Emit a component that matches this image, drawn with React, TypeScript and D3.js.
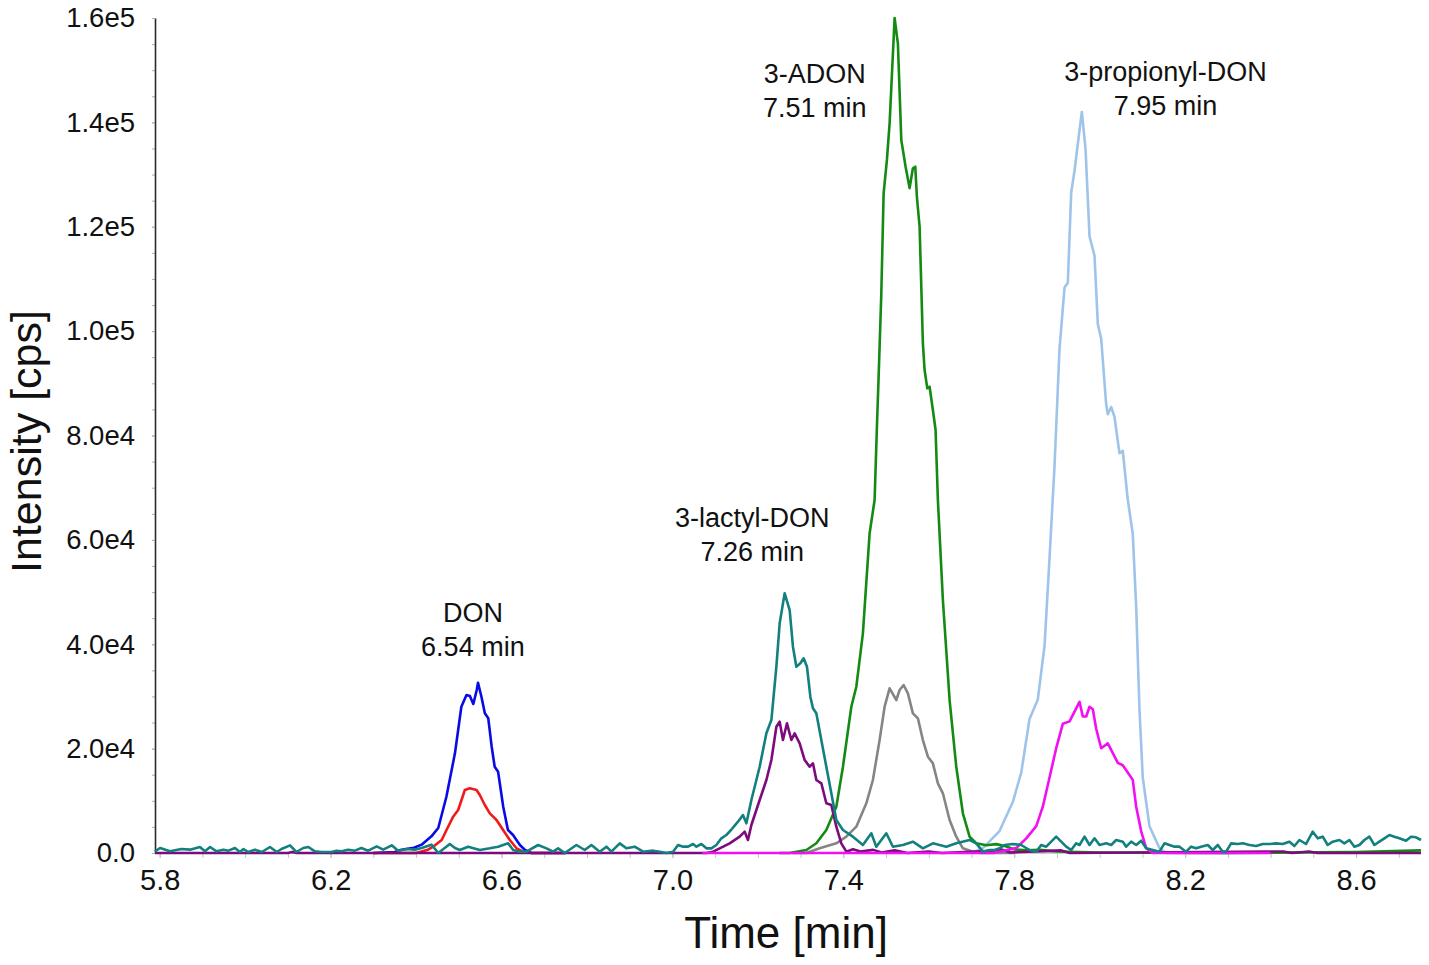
import { useEffect, useRef } from "react";
import * as d3 from "d3";

type Pt = [number, number];

// time [min], intensity [cps]
const donQuant: Pt[] = [
  [6.3, 0], [6.35, 200], [6.366, 639], [6.395, 1000], [6.413, 1597], [6.436, 3194],
  [6.452, 4790], [6.471, 10787], [6.491, 19102], [6.506, 28031], [6.518, 30273],
  [6.526, 30081], [6.534, 28548], [6.542, 31231], [6.545, 32630], [6.553, 29947],
  [6.561, 26766], [6.569, 25808], [6.577, 20367], [6.584, 16535], [6.592, 15577],
  [6.604, 8871], [6.615, 4407], [6.627, 3449], [6.643, 1533], [6.655, 575],
  [6.67, 0], [6.75, 0],
];

const donQual: Pt[] = [
  [6.3, 0], [6.4, 0], [6.428, 639], [6.44, 1207], [6.46, 2500], [6.4713, 4407],
  [6.4868, 6955], [6.4985, 8239], [6.5064, 10155], [6.5142, 12071], [6.5259, 12396],
  [6.5415, 12071], [6.5492, 11113], [6.5609, 9197], [6.5726, 7607], [6.5883, 6323],
  [6.6037, 4407], [6.6194, 2491], [6.6351, 900], [6.6505, 250], [6.67, 0], [6.75, 0],
];

const lactylQuant: Pt[] = [
  [5.789, 320], [5.801, 958], [5.824, 320], [5.851, 766], [5.871, 639], [5.894, 1150],
  [5.906, 320], [5.918, 1150], [5.933, 320], [5.949, 639], [5.961, 447], [5.976, 958],
  [5.988, 192], [5.996, 766], [6.007, 192], [6.023, 639], [6.039, 192], [6.058, 1150],
  [6.074, 192], [6.085, 766], [6.105, 1469], [6.12, 192], [6.136, 958], [6.148, 1150],
  [6.163, 320], [6.179, 192], [6.202, 192], [6.214, 447], [6.226, 320], [6.241, 639],
  [6.257, 447], [6.272, 958], [6.288, 447], [6.308, 1277], [6.323, 639], [6.343, 1469],
  [6.358, 447], [6.378, 766], [6.397, 639], [6.413, 958], [6.436, 1597], [6.452, 0],
  [6.467, 958], [6.479, 1724], [6.491, 958], [6.5024, 575], [6.5219, 1213],
  [6.5492, 575], [6.5726, 894], [6.5921, 1213], [6.6155, 1852], [6.6272, 575],
  [6.6428, 255], [6.6584, 255], [6.6857, 1533], [6.7052, 894], [6.7208, 255],
  [6.7325, 894], [6.748, 0], [6.7754, 1533], [6.7948, 575], [6.8104, 1533],
  [6.83, 255], [6.8455, 1213], [6.8572, 255], [6.8767, 1852], [6.8923, 894],
  [6.9118, 1213], [6.9313, 255], [6.9547, 447], [6.9703, 255], [6.9859, 0],
  [7.0015, 255], [7.0132, 1533], [7.0249, 1213], [7.0366, 1213], [7.0483, 1724],
  [7.0561, 1213], [7.0678, 1724], [7.0795, 894], [7.0912, 894], [7.1028, 1533],
  [7.1145, 2810], [7.1262, 3449], [7.138, 4500], [7.1535, 5997], [7.1651, 7281],
  [7.1731, 5690], [7.1848, 10155], [7.2042, 16535], [7.2199, 22935], [7.2316, 25483],
  [7.2433, 35695], [7.251, 44011], [7.2627, 49759], [7.2744, 46559], [7.2821, 39527],
  [7.29, 35695], [7.2994, 36346], [7.3071, 37304], [7.3149, 35695], [7.3228, 29947],
  [7.3289, 27724], [7.3368, 26766], [7.3485, 21651], [7.3602, 16535], [7.3719, 11439],
  [7.3836, 6323], [7.3991, 4407], [7.4225, 3123], [7.4458, 1533], [7.4655, 3775],
  [7.4772, 1207], [7.5006, 3775], [7.5161, 1207], [7.5394, 1533], [7.5628, 2165],
  [7.5862, 900], [7.6096, 1859], [7.6409, 1207], [7.6643, 1859], [7.6955, 2491],
  [7.7111, 1852], [7.7267, 255], [7.7423, 575], [7.754, 575], [7.7657, 894],
  [7.7774, 1533], [7.7969, 1724], [7.8163, 1533], [7.8358, 575], [7.8514, 255],
  [7.8631, 1533], [7.8748, 1213], [7.8865, 2171], [7.8982, 3129], [7.9099, 2171],
  [7.9216, 1213], [7.9333, 575], [7.945, 1852], [7.9528, 1533], [7.9645, 3129],
  [7.9762, 1533], [7.9879, 2810], [7.9996, 1533], [8.0152, 1852], [8.0269, 1533],
  [8.0386, 2491], [8.0542, 2171], [8.062, 1213], [8.0737, 2171], [8.0854, 1533],
  [8.0971, 2363], [8.1088, 894], [8.1243, 575], [8.1399, 255], [8.1516, 1852],
  [8.1633, 1533], [8.175, 1213], [8.1867, 1213], [8.2023, 255], [8.214, 1213],
  [8.2257, 894], [8.2374, 1213], [8.253, 1533], [8.2647, 575], [8.2764, 1533],
  [8.2881, 255], [8.2959, 255], [8.3076, 1852], [8.3232, 1724], [8.3349, 1852],
  [8.3505, 1533], [8.366, 1341], [8.3816, 1724], [8.3972, 1724], [8.4128, 1852],
  [8.4284, 1724], [8.444, 2171], [8.4557, 1341], [8.4674, 2491], [8.483, 1724],
  [8.4986, 4087], [8.5103, 2810], [8.522, 3129], [8.5337, 1533], [8.5454, 2171],
  [8.561, 2491], [8.5727, 1852], [8.5844, 2491], [8.5961, 1213], [8.6078, 1533],
  [8.6195, 2491], [8.6312, 3129], [8.6429, 1533], [8.6546, 2171], [8.6663, 2810],
  [8.678, 3449], [8.6896, 3129], [8.7013, 2810], [8.7169, 2363], [8.7286, 3129],
  [8.7403, 3002], [8.752, 2491],
];

const lactylQual: Pt[] = [
  [5.789, 0], [6.1, 0], [6.11, 200], [6.12, 0], [7.05, 0], [7.0795, 0], [7.095, 255],
  [7.1106, 900], [7.134, 1859], [7.1574, 3123], [7.1691, 4081], [7.1768, 2491],
  [7.1848, 5365], [7.2042, 10155], [7.2199, 13987], [7.2316, 17819], [7.2433, 24199],
  [7.251, 25157], [7.2587, 21651], [7.2681, 24851], [7.2784, 21651], [7.2861, 22935],
  [7.2978, 21019], [7.3095, 17819], [7.3212, 16535], [7.3289, 17186], [7.3368, 13987],
  [7.3485, 13355], [7.3602, 9523], [7.3719, 9197], [7.3836, 5040], [7.3953, 1859],
  [7.407, 250], [7.4225, 700], [7.44, 300], [7.47, 600], [7.49, 100], [7.52, 500],
  [7.55, 0], [7.6, 300], [7.63, 0], [7.75, 400], [7.77, 700], [7.79, 100], [7.91, 500],
  [7.93, 0], [8.43, 300], [8.45, 0], [8.49, 300], [8.51, 0], [8.752, 0],
];

const adonQuant: Pt[] = [
  [7.25, 0], [7.2744, 0], [7.3135, 575], [7.3368, 1860], [7.3602, 4407], [7.3836, 8871],
  [7.3991, 16535], [7.4187, 28031], [7.4304, 31863], [7.4458, 42095], [7.4615, 61255],
  [7.4732, 67635], [7.4786, 81680], [7.4826, 91260], [7.4889, 107200], [7.4943, 126400],
  [7.502, 132800], [7.5083, 139800], [7.52, 160000], [7.5277, 155100], [7.5357, 136600],
  [7.5457, 131500], [7.5551, 127400], [7.5628, 131200], [7.5684, 131500],
  [7.5722, 125700], [7.5785, 120000], [7.5862, 97660], [7.5902, 92540], [7.5965, 89040],
  [7.6019, 89350], [7.6096, 84880], [7.6159, 81050], [7.6213, 67635], [7.633, 48475],
  [7.6487, 29315], [7.6643, 16535], [7.6798, 7607], [7.6955, 3123], [7.7111, 1859],
  [7.7345, 1500], [7.7579, 1700], [7.78, 1300], [7.8, 700], [7.83, 500], [7.86, 600],
  [7.9, 300], [8.0, 100], [8.3, 0], [8.6, 200], [8.752, 500],
];

const adonQual: Pt[] = [
  [7.28, 0], [7.3135, 0], [7.3446, 900], [7.3836, 1859], [7.407, 3123], [7.4304, 5040],
  [7.4538, 9523], [7.4692, 13987], [7.4849, 21651], [7.4966, 28031], [7.5083, 31556],
  [7.524, 29315], [7.5317, 31231], [7.5411, 32189], [7.5511, 30599], [7.5628, 26766],
  [7.5745, 25808], [7.5862, 21651], [7.5979, 18451], [7.6096, 17186], [7.6213, 13355],
  [7.633, 11439], [7.6487, 6323], [7.6643, 3123], [7.6798, 900], [7.7032, 250],
  [7.72, 0], [7.8, 0],
];

const propQuant: Pt[] = [
  [7.7, 0], [7.7266, 934], [7.7656, 4203], [7.7968, 9807], [7.8164, 15411],
  [7.8358, 25685], [7.8552, 29421], [7.8709, 39695], [7.8826, 56507], [7.8943, 74253],
  [7.906, 96669], [7.9177, 108344], [7.9254, 109278], [7.9333, 126557], [7.9411, 130760],
  [7.9488, 135897], [7.9582, 142000], [7.9668, 134963], [7.9762, 118151], [7.9879, 114415],
  [7.9956, 101339], [8.0035, 98537], [8.0152, 85928], [8.019, 84060], [8.0269, 85461],
  [8.0346, 83593], [8.0463, 76588], [8.054, 77055], [8.0657, 67715], [8.0774, 61177],
  [8.0854, 47167], [8.0931, 27553], [8.1008, 14477], [8.1165, 5137], [8.1399, 934],
  [8.1556, 0], [8.3, 0],
];

const propQual: Pt[] = [
  [7.07, 0], [7.75, 0], [7.8047, 934], [7.8281, 2802], [7.8515, 5137], [7.8669, 8873],
  [7.8826, 14477], [7.8982, 20081], [7.9137, 24751], [7.9294, 25218], [7.9411, 27086],
  [7.9528, 28954], [7.9605, 26152], [7.9684, 26152], [7.9762, 28020], [7.9839, 27553],
  [7.9918, 23817], [8.0035, 20081], [8.019, 21015], [8.0307, 19147], [8.0424, 17279],
  [8.054, 16812], [8.0657, 15411], [8.0774, 14010], [8.0854, 8873], [8.097, 4203],
  [8.1087, 934], [8.1243, 0], [8.4, 0],
];

const seriesNames = [
  "3-propionyl-DON quant", "3-ADON qual", "3-ADON quant", "DON quant", "DON qual",
  "3-lactyl-DON qual", "3-propionyl-DON qual", "3-lactyl-DON quant",
];
const seriesData = [propQuant, adonQual, adonQuant, donQuant, donQual, lactylQual, propQual, lactylQuant];
const seriesColors = [
  "#9ec4ea", "#858585", "#138a13", "#0a0ae6", "#f01a1a", "#7d0b7d", "#f20ff2", "#12807e",
];

const xTicks = [5.8, 6.2, 6.6, 7.0, 7.4, 7.8, 8.2, 8.6];
const yTicks = [0, 20000, 40000, 60000, 80000, 100000, 120000, 140000, 160000];

const peakNames = ["DON", "3-lactyl-DON", "3-ADON", "3-propionyl-DON"];
const peakTimes = ["6.54 min", "7.26 min", "7.51 min", "7.95 min"];
// label anchors in data units (time, intensity of first line baseline)
const labelAnchors: Pt[] = [[6.533, 44300], [7.187, 62400], [7.333, 147500], [8.154, 147900]];

const FONT = "'Liberation Sans', Arial, Helvetica, sans-serif";

export default function App() {
  const svgRef = useRef<SVGSVGElement>(null);

  useEffect(() => {
    if (!svgRef.current) return;
    const width = 1429;
    const height = 965;
    const margin = { top: 18, right: 8, bottom: 112, left: 155 };

    const svg = d3.select(svgRef.current);
    svg.selectAll("*").remove();
    svg.attr("width", width).attr("height", height);

    const x = d3.scaleLinear().domain([5.789, 8.752]).range([margin.left, width - margin.right]);
    const y = d3.scaleLinear().domain([0, 160000]).range([height - margin.bottom, margin.top]);
    const y0 = y(0);

    // light baseline under the traces
    svg
      .append("line")
      .attr("x1", x.range()[0])
      .attr("x2", x.range()[1])
      .attr("y1", y0)
      .attr("y2", y0)
      .attr("stroke", "#9a9a9a")
      .attr("stroke-width", 1);

    // minor x ticks
    svg
      .append("g")
      .attr("transform", `translate(0,${y0})`)
      .call(
        d3
          .axisBottom(x)
          .tickValues(d3.range(58, 88).map((d) => d / 10))
          .tickSize(5)
          .tickSizeOuter(0)
          .tickFormat(() => "")
      )
      .call((g) => g.select(".domain").remove())
      .call((g) => g.selectAll("line").attr("stroke", "#c4c4c4"));

    // major x ticks + labels
    svg
      .append("g")
      .attr("transform", `translate(0,${y0})`)
      .call(
        d3
          .axisBottom(x)
          .tickValues(xTicks)
          .tickSize(5)
          .tickSizeOuter(0)
          .tickPadding(11)
          .tickFormat((d) => d3.format(".1f")(d as number))
      )
      .call((g) => g.select(".domain").remove())
      .call((g) => g.selectAll("line").attr("stroke", "#c4c4c4"))
      .call((g) =>
        g
          .selectAll("text")
          .attr("fill", "#111")
          .style("font-size", "29px")
          .style("font-family", FONT)
      );

    // minor y ticks
    svg
      .append("g")
      .attr("transform", `translate(${margin.left},0)`)
      .call(
        d3
          .axisLeft(y)
          .tickValues(d3.range(0, 160001, 5000))
          .tickSize(3)
          .tickSizeOuter(0)
          .tickFormat(() => "")
      )
      .call((g) => g.select(".domain").remove())
      .call((g) => g.selectAll("line").attr("stroke", "#b0b0b0"));

    // y axis
    const fmtY = (d: number) => (d === 0 ? "0.0" : d3.format(".1e")(d).replace("+", ""));
    svg
      .append("g")
      .attr("transform", `translate(${margin.left},0)`)
      .call(
        d3
          .axisLeft(y)
          .tickValues(yTicks)
          .tickSize(3)
          .tickSizeOuter(0)
          .tickPadding(17)
          .tickFormat((d) => fmtY(d as number))
      )
      .call((g) => g.select(".domain").attr("stroke", "#2a2a2a").attr("stroke-width", 1.6))
      .call((g) => g.selectAll("line").attr("stroke", "#b0b0b0"))
      .call((g) =>
        g
          .selectAll("text")
          .attr("fill", "#111")
          .style("font-size", "27.5px")
          .style("font-family", FONT)
      );

    // traces
    const line = d3
      .line<Pt>()
      .x((d) => x(d[0]))
      .y((d) => y(d[1]));

    svg
      .append("g")
      .selectAll("path")
      .data(seriesData)
      .join("path")
      .attr("class", (_, i) => `trace ${seriesNames[i]}`)
      .attr("d", (d) => line(d))
      .attr("fill", "none")
      .attr("stroke", (_, i) => seriesColors[i])
      .attr("stroke-width", 2.6)
      .attr("stroke-linejoin", "round");

    // peak labels
    const labels = svg
      .append("g")
      .selectAll("g")
      .data(peakNames)
      .join("g")
      .attr("transform", (_, i) => `translate(${x(labelAnchors[i][0])},${y(labelAnchors[i][1])})`)
      .style("font-family", FONT)
      .style("font-size", "27px")
      .attr("fill", "#111")
      .attr("text-anchor", "middle");
    labels.append("text").text((d) => d);
    labels
      .append("text")
      .attr("y", 34)
      .text((_, i) => peakTimes[i]);

    // axis titles
    svg
      .append("text")
      .attr("transform", `translate(${(x.range()[0] + x.range()[1]) / 2 - 2},948)`)
      .attr("text-anchor", "middle")
      .attr("fill", "#111")
      .style("font-family", FONT)
      .style("font-size", "44px")
      .text("Time [min]");

    svg
      .append("text")
      .attr("transform", `translate(41,${(y.range()[0] + y.range()[1]) / 2 + 6}) rotate(-90)`)
      .attr("text-anchor", "middle")
      .attr("fill", "#111")
      .style("font-family", FONT)
      .style("font-size", "43px")
      .text("Intensity [cps]");
  }, []);

  return (
    <div style={{ position: "absolute", left: 0, top: 0, background: "#fff" }}>
      <svg ref={svgRef} style={{ display: "block" }} />
    </div>
  );
}
